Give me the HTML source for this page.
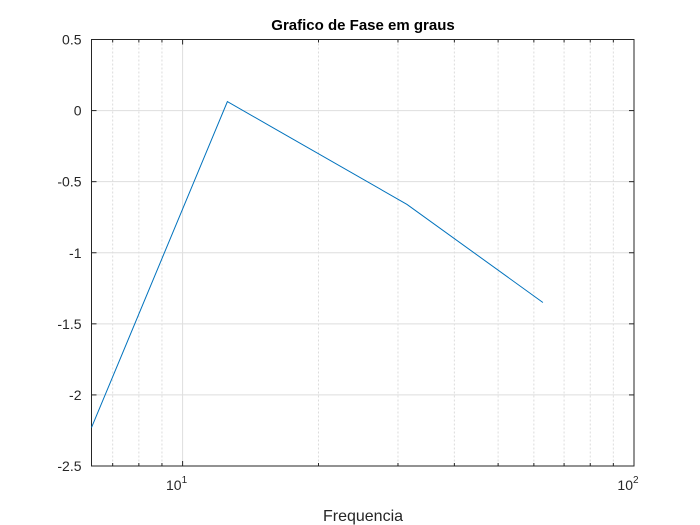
<!DOCTYPE html>
<html><head><meta charset="utf-8"><style>
body{margin:0;background:#fff;}
svg{display:block;font-family:"Liberation Sans",sans-serif;}
</style></head><body>
<svg id="chart" width="700" height="525">
<rect x="0" y="0" width="700" height="525" fill="#fff"/>
<rect x="91.5" y="39.5" width="542.5" height="426.5" fill="#fff"/>
<g id="grid"></g><g id="axes"></g><g id="series"></g>
<text x="363" y="30" text-anchor="middle" font-weight="bold" font-size="15" fill="#000">Grafico de Fase em graus</text>
<text x="363" y="521" text-anchor="middle" font-size="16" fill="#262626">Frequencia</text>
</svg>
<script>
const freqs=[6.2832,12.566,31.416,62.832];
const phases=[-2.23,0.063,-0.66,-1.35];
const yTicks=[0.5,0,-0.5,-1,-1.5,-2,-2.5];
const yTickLabels=["0.5","0","-0.5","-1","-1.5","-2","-2.5"];
const xMinor=[7,8,9,20,30,40,50,60,70,80,90];
const L=91.5,R=634,T=39.5,B=466;
const xMin=Math.log10(6.2832),xMax=2;
const X=v=>L+(Math.log10(v)-xMin)/(xMax-xMin)*(R-L);
const Y=v=>T+(0.5-v)/3*(B-T);
const NS="http://www.w3.org/2000/svg";
function mk(tag,attrs,parent){const e=document.createElementNS(NS,tag);for(const k in attrs)e.setAttribute(k,attrs[k]);parent.appendChild(e);return e;}
const g=document.getElementById('grid'),a=document.getElementById('axes'),s=document.getElementById('series');
xMinor.forEach(v=>{const e=mk('line',{x1:X(v),x2:X(v),y1:T,y2:B,stroke:'#dcdcdc','stroke-dasharray':'2,2','stroke-width':1},g);

});
[10].forEach(v=>{const e=mk('line',{x1:X(v),x2:X(v),y1:T,y2:B,stroke:'#dedede','stroke-width':1},g);

});
yTicks.forEach((v,i)=>{const e=mk('line',{x1:L,x2:R,y1:Y(v),y2:Y(v),stroke:'#dedede','stroke-width':1},g);


const t=mk('text',{x:L-10,y:Y(v)+5,'text-anchor':'end','font-size':14,fill:'#262626'},a);t.textContent=yTickLabels[i];


mk('line',{x1:L,x2:L+5,y1:Y(v),y2:Y(v),stroke:'#262626'},a);mk('line',{x1:R,x2:R-5,y1:Y(v),y2:Y(v),stroke:'#262626'},a);});
xMinor.forEach(v=>{mk('line',{x1:X(v),x2:X(v),y1:B,y2:B-3,stroke:'#262626'},a);mk('line',{x1:X(v),x2:X(v),y1:T,y2:T+3,stroke:'#262626'},a);});
[10,100].forEach(v=>{mk('line',{x1:X(v),x2:X(v),y1:B,y2:B-5,stroke:'#262626'},a);mk('line',{x1:X(v),x2:X(v),y1:T,y2:T+5,stroke:'#262626'},a);
const t=mk('text',{x:X(v)-6,y:B+24,'text-anchor':'middle','font-size':14,fill:'#262626'},a);t.textContent='10';


const sp=mk('tspan',{dy:-7,'font-size':10},t);sp.textContent=(v===10?'1':'2');});
const box=mk('rect',{x:L,y:T,width:R-L,height:B-T,fill:'none',stroke:'#262626','stroke-width':1},a);


const p=mk('polyline',{points:freqs.map((f,i)=>X(f)+','+Y(phases[i])).join(' '),fill:'none',stroke:'#0072bd','stroke-width':1},s);


</script>
</body></html>
